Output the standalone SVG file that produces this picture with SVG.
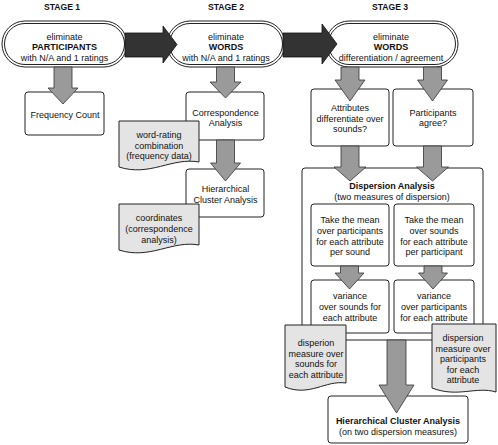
<svg xmlns="http://www.w3.org/2000/svg" width="498" height="445" viewBox="0 0 498 445">
<style>
text{font-family:"Liberation Sans",Arial,sans-serif;font-size:9px;fill:#111;text-anchor:middle}
.b{font-weight:bold}
.stage{font-weight:bold;font-size:8.6px}
.box{fill:#fff;stroke:#222;stroke-width:1}
.pill{fill:#fff;stroke:#222;stroke-width:1}
.doc{fill:#e4e4e4;stroke:#222;stroke-width:1}
.ga{fill:#9a9a9a;stroke:#333;stroke-width:0.8}
.da{fill:#333;stroke:#111;stroke-width:0.8}
</style>
<rect width="498" height="445" fill="#fff"/>
<g id="stages">
<text class="stage" x="62" y="10">STAGE 1</text>
<text class="stage" x="226" y="10">STAGE 2</text>
<text class="stage" x="390" y="10">STAGE 3</text>
</g>
<g id="pill1">
<rect class="pill" x="2" y="21" width="125" height="46" rx="23"/>
<rect class="pill" x="4.5" y="23.5" width="120" height="41" rx="20.5"/>
<text x="64.5" y="40">eliminate</text>
<text class="b" x="64.5" y="50">PARTICIPANTS</text>
<text x="64.5" y="61">with N/A and 1 ratings</text>
</g>
<g id="pill2">
<rect class="pill" x="167" y="21" width="118" height="46" rx="23"/>
<rect class="pill" x="169.5" y="23.5" width="113" height="41" rx="20.5"/>
<text x="226" y="40">eliminate</text>
<text class="b" x="226" y="50">WORDS</text>
<text x="226" y="61">with N/A and 1 ratings</text>
</g>
<g id="pill3">
<rect class="pill" x="326" y="21" width="132" height="46" rx="23"/>
<rect class="pill" x="328.5" y="23.5" width="127" height="41" rx="20.5"/>
<text x="391" y="40">eliminate</text>
<text class="b" x="391" y="50">WORDS</text>
<text x="391" y="61">differentiation / agreement</text>
</g>
<g id="freq">
<rect class="box" x="25" y="92" width="79" height="43" rx="3"/>
<text x="65" y="118">Frequency Count</text>
</g>
<g id="corr">
<rect class="box" x="186" y="92" width="78" height="48" rx="3"/>
<text x="225.5" y="116">Correspondence</text>
<text x="225.5" y="126">Analysis</text>
</g>
<g id="hca1">
<rect class="box" x="186" y="169" width="78" height="48" rx="3"/>
<text x="225.5" y="192">Hierarchical</text>
<text x="225.5" y="203">Cluster Analysis</text>
</g>
<g id="doc1">
<path class="doc" d="M119,121 H199 V162 C172,157 150,177 119,167 Z"/>
<text x="159" y="138">word-rating</text>
<text x="159" y="149">combination</text>
<text x="159" y="159">(frequency data)</text>
</g>
<g id="doc2">
<path class="doc" d="M119,204 H199 V245 C172,240 150,260 119,250 Z"/>
<text x="159" y="221">coordinates</text>
<text x="159" y="232">(correspondence</text>
<text x="159" y="243">analysis)</text>
</g>
<g id="attr">
<rect class="box" x="311" y="89" width="78" height="57" rx="3"/>
<text x="350" y="111">Attributes</text>
<text x="350" y="121.5">differentiate over</text>
<text x="350" y="132">sounds?</text>
</g>
<g id="agree">
<rect class="box" x="393" y="89" width="80" height="57" rx="3"/>
<text x="433" y="116">Participants</text>
<text x="433" y="126">agree?</text>
</g>
<g id="disp">
<rect class="box" x="302" y="168" width="181" height="172" rx="3"/>
<text class="b" x="392" y="189">Dispersion Analysis</text>
<text x="392" y="200">(two measures of dispersion)</text>
</g>
<g id="mean1">
<rect class="box" x="311" y="204" width="78" height="62" rx="3"/>
<text x="350" y="223">Take the mean</text>
<text x="350" y="234">over participants</text>
<text x="350" y="245">for each attribute</text>
<text x="350" y="255">per sound</text>
</g>
<g id="mean2">
<rect class="box" x="394" y="204" width="80" height="62" rx="3"/>
<text x="434" y="223">Take the mean</text>
<text x="434" y="234">over sounds</text>
<text x="434" y="245">for each attribute</text>
<text x="434" y="255">per participant</text>
</g>
<g id="var1">
<rect class="box" x="311" y="280" width="78" height="53" rx="3"/>
<text x="350" y="299">variance</text>
<text x="350" y="310">over sounds for</text>
<text x="350" y="321">each attribute</text>
</g>
<g id="var2">
<rect class="box" x="394" y="280" width="80" height="53" rx="3"/>
<text x="434" y="299">variance</text>
<text x="434" y="310">over participants</text>
<text x="434" y="321">for each attribute</text>
</g>
<g id="doc3">
<path class="doc" d="M285,325 H346 V383 C325,380 310,397 285,387 Z"/>
<text x="316" y="346">disperion</text>
<text x="316" y="356.5">measure over</text>
<text x="316" y="367">sounds for</text>
<text x="316" y="377.5">each attribute</text>
</g>
<g id="doc4">
<path class="doc" d="M432,324 H496 V392 C476,386 458,398 432,388 Z"/>
<text x="463" y="341">dispersion</text>
<text x="463" y="351.5">measure over</text>
<text x="463" y="362">participants</text>
<text x="463" y="372.5">for each</text>
<text x="463" y="383">attribute</text>
</g>
<g id="hca2">
<rect class="box" x="328" y="396" width="140" height="47" rx="3"/>
<text class="b" x="398" y="424">Hierarchical Cluster Analysis</text>
<text x="398" y="435">(on two dispersion measures)</text>
</g>
<g id="connectors">
<path class="da" d="M125,33 H163 V26 L177,44.5 L163,63 V57 H125 Z"/>
<path class="da" d="M283,33 H322 V24 L337,44 L322,64 V57 H283 Z"/>
<path class="ga" d="M54,67 V88 H48 L63,104 L78,88 H72 V67 Z"/>
<path class="ga" d="M216.5,67 V82 H210 L225.5,98 L241,82 H234.5 V67 Z"/>
<path class="ga" d="M216.5,140 V163 H210.5 L225.5,181 L240.5,163 H234.5 V140 Z"/>
<path class="ga" d="M341,67 V80 H335 L350,101 L365,80 H359 V67 Z"/>
<path class="ga" d="M423.5,67 V80 H417.5 L432.5,101 L447.5,80 H441.5 V67 Z"/>
<path class="ga" d="M341,146 V167 H334 L350,181 L366,167 H359 V146 Z"/>
<path class="ga" d="M423.5,146 V167 H416.5 L432.5,181 L448.5,167 H441.5 V146 Z"/>
<path class="ga" d="M340.5,266 V273 H335 L349.5,289 L364,273 H358.5 V266 Z"/>
<path class="ga" d="M424,266 V273 H418.5 L433,289 L447.5,273 H442 V266 Z"/>
<path class="ga" d="M387,340 V385 H379 L396.5,413 L414,385 H406 V340 Z"/>
</g>
</svg>
